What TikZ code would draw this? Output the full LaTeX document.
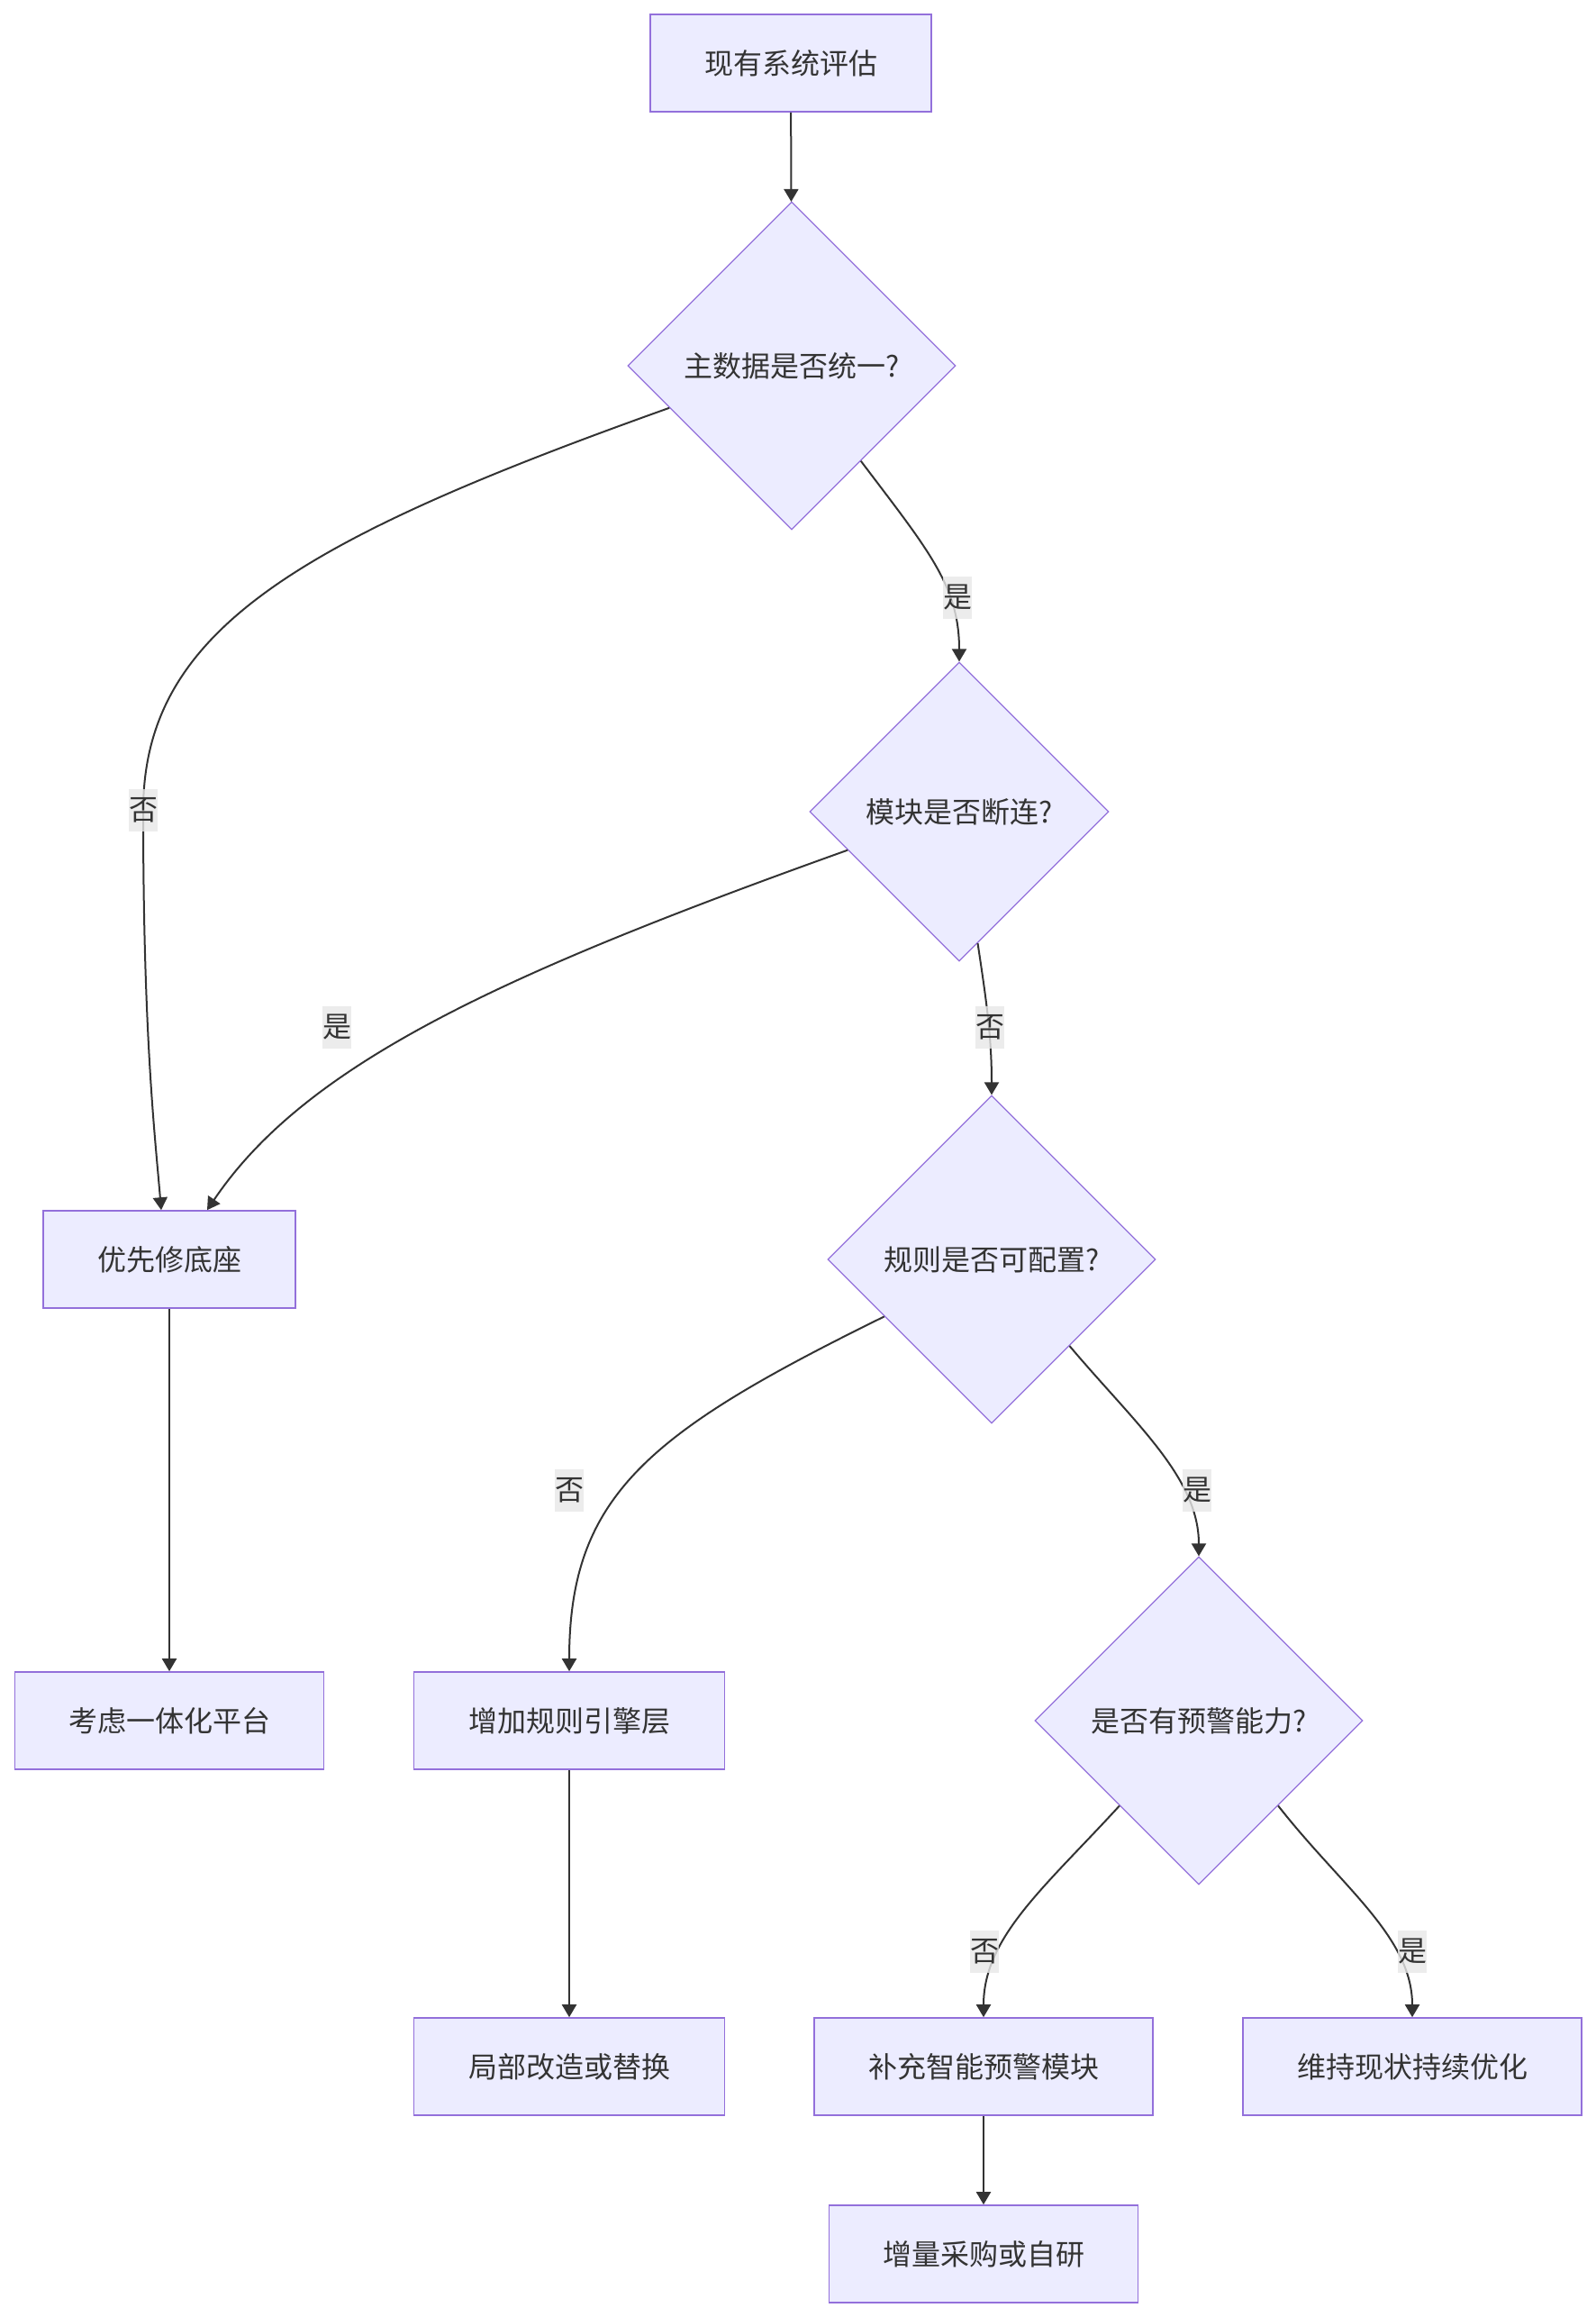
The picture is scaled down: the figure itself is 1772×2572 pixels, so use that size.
\documentclass[tikz,border=0pt]{standalone}
\usepackage{fontspec}
\setmainfont{Noto Sans CJK SC}
\usetikzlibrary{calc, positioning}
\usetikzlibrary{shapes.geometric}
\usetikzlibrary{arrows.meta}
\definecolor{nodefill}{HTML}{ECECFF}
\definecolor{nodeline}{HTML}{9370DB}
\definecolor{edgeline}{HTML}{333333}
\definecolor{lblfill}{HTML}{E8E8E8}

\begin{document}
\begin{tikzpicture}[x=0.5pt, y=-0.5pt,
  font=\fontsize{16}{19}\selectfont, text=edgeline,
  box/.style={draw=nodeline, fill=nodefill, line width=0.8pt, minimum height=54pt, inner sep=0pt},
  decision/.style={diamond, aspect=1, draw=nodeline, fill=nodefill, line width=0.6pt, inner sep=0pt},
  flow/.style={draw=edgeline, line width=1pt, -{Triangle[width=8pt,length=7pt]}},
  lbl/.style={fill=lblfill, fill opacity=0.8, text opacity=1, inner sep=0pt, minimum width=16pt, minimum height=23.5pt}]

\useasboundingbox[fill=white] (0,0) rectangle (1772,2572);

% Boxes and decisions
\node[box, minimum width=156pt] (eval) at (878,70) {现有系统评估};
\node[decision, minimum width=182pt, minimum height=182pt] (master) at (879,406) {主数据是否统一?};
\node[decision, minimum width=166pt, minimum height=166pt] (link) at (1065,901) {模块是否断连?};
\node[box, minimum width=140pt] (base) at (188,1398) {优先修底座};
\node[decision, minimum width=182pt, minimum height=182pt] (rule) at (1101,1398) {规则是否可配置?};
\node[box, minimum width=171.5pt] (platform) at (188,1910) {考虑一体化平台};
\node[box, minimum width=172.5pt] (engine) at (632,1910) {增加规则引擎层};
\node[decision, minimum width=182pt, minimum height=182pt] (warn) at (1331,1910) {是否有预警能力?};
\node[box, minimum width=172.5pt] (replace) at (632,2294) {局部改造或替换};
\node[box, minimum width=188pt] (smart) at (1092,2294) {补充智能预警模块};
\node[box, minimum width=188pt] (keep) at (1568,2294) {维持现状持续优化};
\node[box, minimum width=171.5pt] (buy) at (1092,2502) {增量采购或自研};

% Connectors
\draw[flow] (eval) -- (master);
\draw[flow] (master.199) .. controls (330,600) and (159,700) .. (159,900)
  .. controls (159,1150) and (172,1260) .. ($(base.north)+(-9,0)$);
\draw[flow] (master.-54) .. controls (1030,610) and (1065,650) .. (link.north);
\draw[flow] (link.199) .. controls (560,1080) and (340,1180) .. ($(base.north)+(42,0)$);
\draw[flow] (link.-82) .. controls (1095,1110) and (1101,1150) .. (rule.north);
\draw[flow] (base) -- (platform);
\draw[flow] (rule.208) .. controls (720,1590) and (632,1660) .. (engine.north);
\draw[flow] (rule.-48) .. controls (1260,1580) and (1331,1640) .. (warn.north);
\draw[flow] (engine) -- (replace);
\draw[flow] (warn.227) .. controls (1160,2095) and (1092,2150) .. (smart.north);
\draw[flow] (warn.-47) .. controls (1490,2095) and (1568,2150) .. (keep.north);
\draw[flow] (smart) -- (buy);

% Edge labels
\node[lbl] (lbMasterNo) at (159,899) {否};
\node[lbl] (lbMasterYes) at (1063,663) {是};
\node[lbl] (lbLinkYes) at (374,1140) {是};
\node[lbl] (lbLinkNo) at (1099,1140) {否};
\node[lbl] (lbRuleNo) at (632,1654) {否};
\node[lbl] (lbRuleYes) at (1329,1654) {是};
\node[lbl] (lbWarnNo) at (1093,2166) {否};
\node[lbl] (lbWarnYes) at (1568,2166) {是};
\end{tikzpicture}
\end{document}
